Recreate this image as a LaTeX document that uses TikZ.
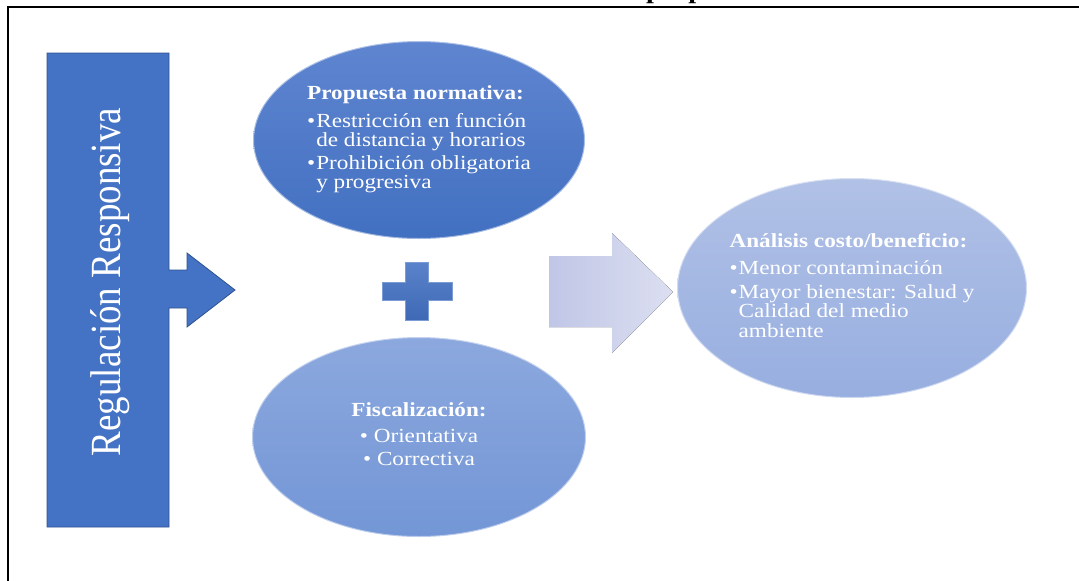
\documentclass[tikz,border=0pt]{standalone}
\usepackage{fontspec}
\setmainfont{Liberation Serif}
\newfontfamily\wideserif[FakeStretch=1.16]{Liberation Serif}
\newfontfamily\narrowserif[FakeStretch=0.86]{Liberation Serif}
\usetikzlibrary{shapes.geometric}
\definecolor{regblue}{HTML}{4472C4}
\definecolor{regedge}{HTML}{2F528F}
\definecolor{proptop}{HTML}{5F85D0}
\definecolor{propbot}{HTML}{4270C1}
\definecolor{fisctop}{HTML}{8CA8DE}
\definecolor{fiscbot}{HTML}{7396D6}
\definecolor{costotop}{HTML}{B1C1E6}
\definecolor{costobot}{HTML}{97AEE0}
\definecolor{flowleft}{HTML}{C0C6E6}
\definecolor{flowright}{HTML}{DCDFF1}
\begin{document}
\begin{tikzpicture}[x=1pt,y=-1pt,
		bubble/.style={ellipse,inner sep=0pt,text=white,font=\wideserif\fontsize{20}{19}\selectfont,draw=white,draw opacity=.5,line width=2pt},
		bigshape/.style={draw=regedge,line width=.8pt,fill=regblue}]
			\useasboundingbox (0,0) rectangle (1079,581);
			\clip (0,0) rectangle (1079,581);
			\node[anchor=base,font=\wideserif\bfseries\fontsize{24.5}{26}\selectfont] (title) at (548,-1.5) {Gráfico 5: Resumen de la propuesta};
			\draw[line width=2pt] (8.2,581) -- (8.2,6.5) -- (1079,6.5);
			
			\draw[bigshape] (47,53) -- (169,53) -- (169,270) -- (187,270) -- (187,253) -- (235,290) -- (187,327) -- (187,308) -- (169,308) -- (169,527) -- (47,527) -- cycle;
			\node[rotate=90,anchor=base,text=white,font=\narrowserif\fontsize{43}{43}\selectfont] (reg) at (120.5,282) {Regulación Responsiva};
			
			\node[bubble,top color=proptop,bottom color=propbot,minimum width=332pt,minimum height=198pt] (prop) at (419,140)
				{\begin{tabular}{@{}l@{\hspace{1pt}}l@{}}
					\multicolumn{2}{@{}l@{}}{\bfseries Propuesta normativa:}\\[8pt]
					•&Restricción en función\\
					&de distancia y horarios\\[3pt]
					•&Prohibición obligatoria\\
					&y progresiva
				\end{tabular}\hspace{32pt}};
			\node[bubble,top color=fisctop,bottom color=fiscbot,minimum width=334pt,minimum height=200pt] (fisc) at (419,437)
				{\begin{tabular}{@{}c@{}}
					\bfseries Fiscalización:\\[7pt]
					• Orientativa\\[4pt]
					• Correctiva
				\end{tabular}};
			\node[bubble,top color=costotop,bottom color=costobot,minimum width=350pt,minimum height=220pt] (costo) at (852,288)
				{\begin{tabular}{@{}l@{\hspace{1pt}}l@{}}
					\multicolumn{2}{@{}l@{}}{\bfseries Análisis costo/beneficio:}\\[8pt]
					•&Menor contaminación\\[4pt]
					•&Mayor bienestar: Salud y\\
					&Calidad del medio\\
					&ambiente
				\end{tabular}};
			
			\draw[bigshape,draw=regblue!70!white,top color=regblue!88!white,bottom color=regblue!92!black] (405,262) -- (428,262) -- (428,282) -- (452,282) -- (452,300) -- (428,300) -- (428,320) -- (405,320) -- (405,300) -- (382,300) -- (382,282) -- (405,282) -- cycle;
			\fill[left color=flowleft,right color=flowright] (549,256) -- (612,256) -- (612,233) -- (673,292) -- (612,353) -- (612,327) -- (549,327) -- cycle;
		\end{tikzpicture}
\end{document}
